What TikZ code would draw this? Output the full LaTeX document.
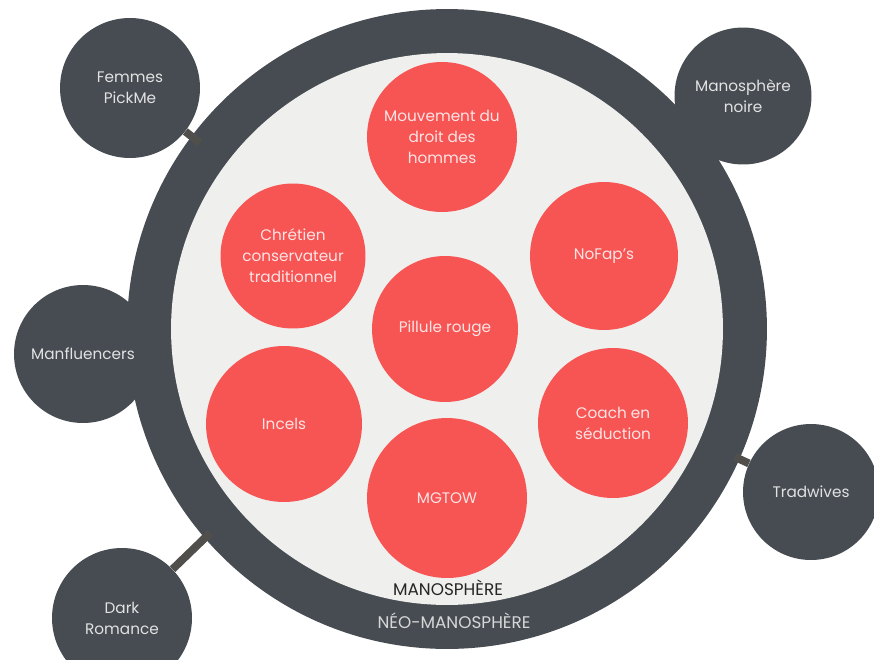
\documentclass[tikz,border=0pt]{standalone}
\usepackage{fontspec}
\setmainfont{Poppins}
\usepackage{tikz}
\definecolor{ringdark}{HTML}{474C52}
\definecolor{innerbg}{HTML}{EFEFED}
\definecolor{groupred}{HTML}{F75454}
\definecolor{redtext}{HTML}{FDE4E4}
\definecolor{darktext}{HTML}{E2E2E2}
\definecolor{linkgrey}{HTML}{504F4C}

\begin{document}
\begin{tikzpicture}[
    x=0.02cm, y=-0.02cm,
    sat/.style={circle, fill=ringdark, text=darktext, align=center, inner sep=0pt, font=\fontsize{8.7}{12}\selectfont},
    group/.style={circle, fill=groupred, text=redtext, align=center, inner sep=0pt, font=\fontsize{8.7}{12}\selectfont},
    link/.style={draw=linkgrey, line width=4.5pt},
]
    \useasboundingbox (0,0) rectangle (874,659);

    % outer ring
    \node[circle, fill=ringdark, minimum size=12.8cm] (neo) at (447,329) {};

    % satellites
    \node[sat, minimum size=2.8cm] (femmes) at (130,88) {Femmes\\PickMe};
    \node[sat, minimum size=2.74cm] (noire) at (743,96) {Manosphère\\noire};
    \node[sat, minimum size=2.76cm] (manfl) at (83,354) {Manfluencers};
    \node[sat, minimum size=2.72cm] (tradw) at (811,492) {Tradwives};
    \node[sat, minimum size=2.8cm] (darkrom) at (122,618) {Dark\\Romance};

    \coordinate (femmesend) at (200,143);
    \coordinate (tradwend) at (735,457);
    \coordinate (darkromend) at (210,533);
    \draw[link] (femmes) -- (femmesend);
    \draw[link] (tradw) -- (tradwend);
    \draw[link] (darkrom) -- (darkromend);

    % inner circle
    \node[circle, fill=innerbg, minimum size=11.04cm] (mano) at (447,329) {};

    \node[group, minimum size=3cm] (mouv) at (442,137) {Mouvement du\\droit des\\hommes};
    \node[group, minimum size=2.9cm] (chret) at (293,256) {Chrétien\\conservateur\\traditionnel};
    \node[group, minimum size=2.92cm] (pillule) at (445,329) {Pillule rouge};
    \node[group, minimum size=2.96cm] (nofap) at (604,256) {NoFap’s};
    \node[group, minimum size=3.12cm] (incels) at (284,424) {Incels};
    \node[group, minimum size=3cm] (coach) at (613,423) {Coach en\\séduction};
    \node[group, minimum size=3.2cm] (mgtow) at (447,498) {MGTOW};

    \node[text=black!85, font=\fontsize{9.6}{12}\selectfont] (manolabel) at (448,588) {MANOSPHÈRE};
    \node[text=darktext!95!black, font=\fontsize{9.6}{12}\selectfont] (neolabel) at (454,621) {NÉO-MANOSPHÈRE};
\end{tikzpicture}
\end{document}
